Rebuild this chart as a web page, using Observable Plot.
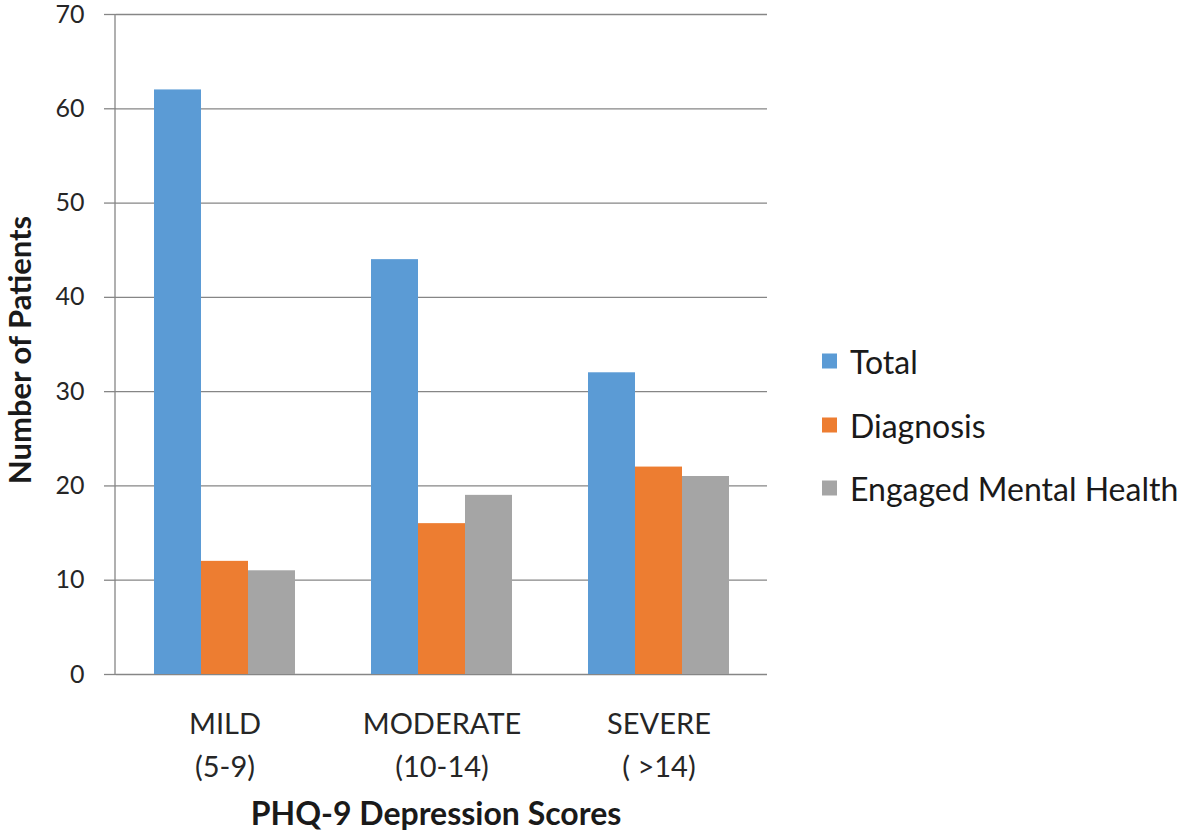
<!DOCTYPE html>
<html><head><meta charset="utf-8">
<script src="https://cdn.jsdelivr.net/npm/d3@7"></script>
<script src="https://cdn.jsdelivr.net/npm/@observablehq/plot@0.6"></script>
<style>
body{margin:0;background:#fff;}
#wrap{position:relative;width:1181px;height:833px;font-family:Lato, "Open Sans", sans-serif;color:#1a1a1a;}
.abs{position:absolute;white-space:nowrap;}
.ytitle{left:19px;top:350px;transform:translate(-50%,-50%) rotate(-90deg);font-weight:bold;font-size:31px;}
.xtitle{left:436px;top:812px;transform:translate(-50%,-50%);font-weight:bold;font-size:32px;}
.leg{left:822px;display:flex;align-items:center;transform:translateY(-50%);font-size:32px;}
.sw{width:15px;height:15px;margin-right:13px;}
</style></head><body><div id="wrap"></div>
<script>
const categories = ["MILD\n(5-9)", "MODERATE\n(10-14)", "SEVERE\n( >14)"];
const series = ["Total", "Diagnosis", "Engaged Mental Health"];
const totalValues = [62, 44, 32];
const diagnosisValues = [12, 16, 22];
const engagedValues = [11, 19, 21];
const colors = ["#5B9BD5", "#ED7D31", "#A5A5A5"];
const yTicks = [0, 10, 20, 30, 40, 50, 60, 70];
const xTitle = "PHQ-9 Depression Scores";
const yTitle = "Number of Patients";

const valuesBySeries = [totalValues, diagnosisValues, engagedValues];
const data = categories.flatMap((c, i) => series.map((s, j) => ({category: c, series: s, value: valuesBySeries[j][i]})));

const plot = Plot.plot({
  width: 1181, height: 833,
  marginLeft: 115, marginRight: 414, marginTop: 14, marginBottom: 159,
  style: {fontFamily: 'Lato, "Open Sans", sans-serif', background: "white", overflow: "visible"},
  fx: {domain: categories, padding: 0, label: null},
  x: {domain: series, paddingInner: 0, paddingOuter: 0.78, axis: null},
  y: {domain: [0, 70], label: null},
  color: {domain: series, range: colors},
  marks: [
    Plot.gridY(yTicks, {stroke: "#868686", strokeOpacity: 1, strokeWidth: 1.3}),
    Plot.barY(data, {fx: "category", x: "series", y: "value", fill: "series", insetLeft: 0, insetRight: 0}),
    Plot.axisY(yTicks, {tickSize: 12, tickPadding: 20, fontSize: 25, stroke: "#868686", strokeWidth: 1.3, fill: "#262626", label: null}),
    Plot.axisFx({anchor: "bottom", tickSize: 0, tickPadding: 29, fontSize: 29, lineHeight: 1.48, fill: "#262626", label: null})
  ]
});

const wrap = document.getElementById("wrap");
wrap.appendChild(plot);

// vertical y-axis line drawn from the plot's own y scale
const ys = plot.scale("y");
d3.select(plot).append("line")
  .attr("x1", 115).attr("x2", 115)
  .attr("y1", ys.range[0]).attr("y2", ys.range[1])
  .attr("stroke", "#868686").attr("stroke-width", 1.3);

function addDiv(cls, text) {
  const d = document.createElement("div");
  d.className = "abs " + cls;
  d.textContent = text;
  wrap.appendChild(d);
  return d;
}
addDiv("ytitle", yTitle);
addDiv("xtitle", xTitle);
const legendY = [361, 425, 488];
series.forEach((s, i) => {
  const d = document.createElement("div");
  d.className = "abs leg";
  d.style.top = legendY[i] + "px";
  const sw = document.createElement("span");
  sw.className = "sw";
  sw.style.background = colors[i];
  const t = document.createElement("span");
  t.textContent = s;
  d.appendChild(sw); d.appendChild(t);
  wrap.appendChild(d);
});
</script></body></html>
